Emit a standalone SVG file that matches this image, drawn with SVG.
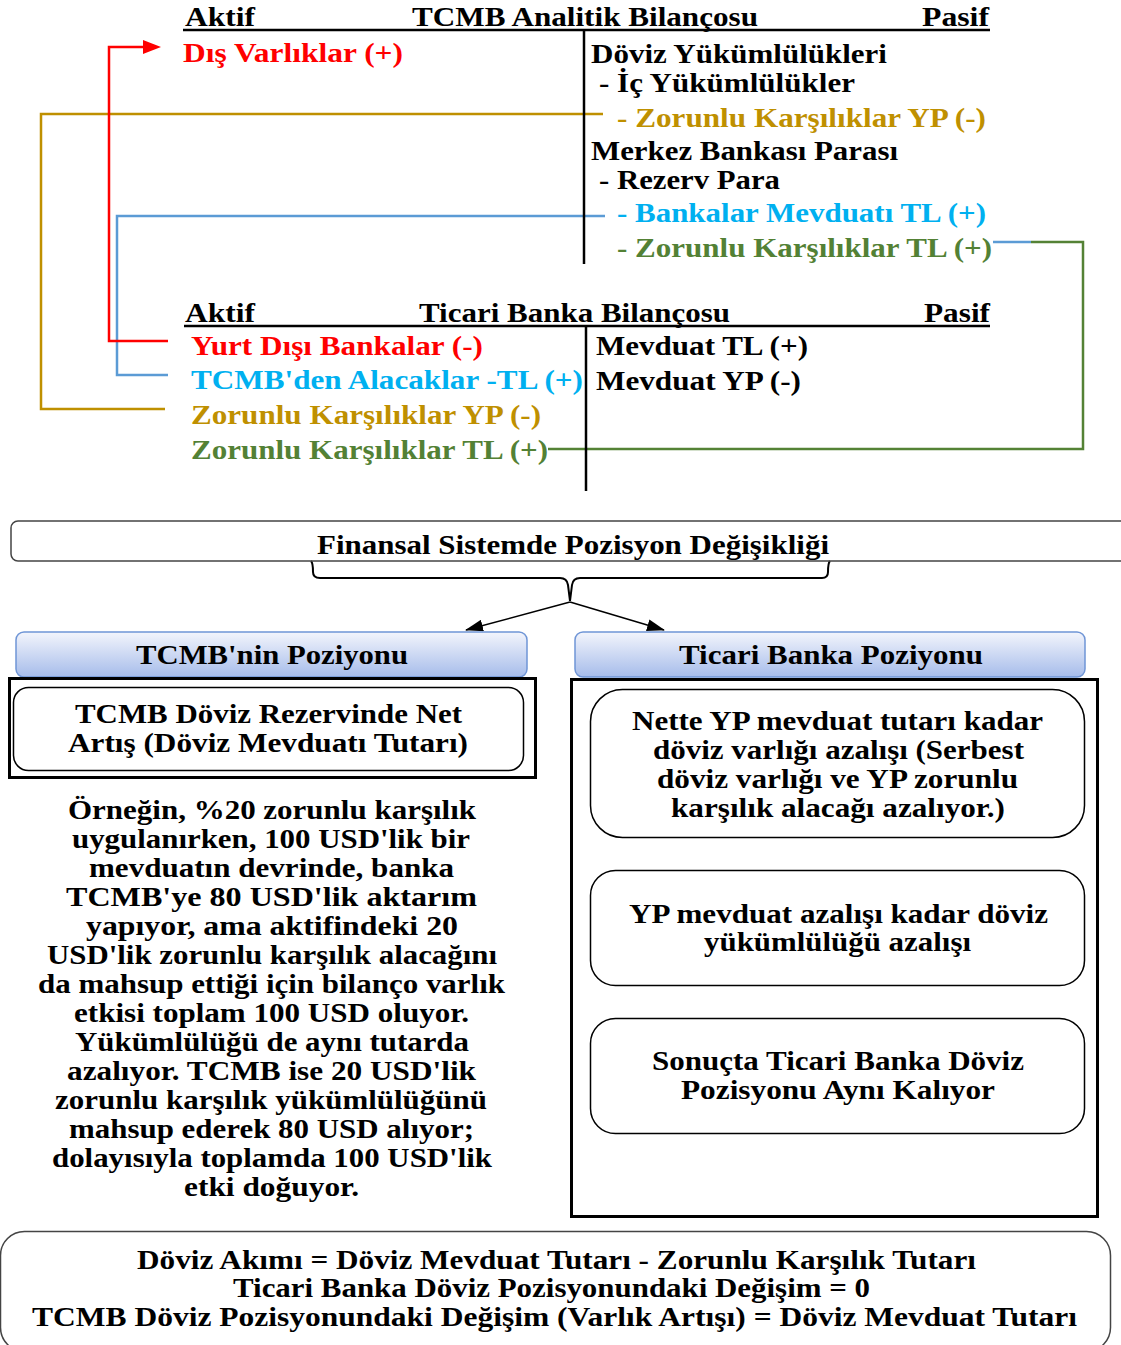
<svg xmlns="http://www.w3.org/2000/svg" width="1121" height="1345" viewBox="0 0 1121 1345">
<style>
text{font-family:"Liberation Serif","Times New Roman",serif;font-weight:bold;font-size:27.5px;fill:#000}
.r{fill:#FF0000}.g{fill:#BF9000}.b{fill:#00B0F0}.gr{fill:#538135}
.ln{fill:none;stroke-width:2.5}
.hdr{fill:url(#hg);stroke:#6F95D6;stroke-width:1.5}
.in{fill:#fff;stroke:#000;stroke-width:1.5}
</style>
<defs>
<linearGradient id="hg" x1="0" y1="0" x2="0" y2="1">
<stop offset="0" stop-color="#F3F5FC"/>
<stop offset="1" stop-color="#A6BCEA"/>
</linearGradient>
<marker id="ah" markerWidth="18" markerHeight="12" refX="17" refY="6" orient="auto" markerUnits="userSpaceOnUse" viewBox="0 0 18 12">
<path d="M0,0 L18,6 L0,12 z" fill="#000"/>
</marker>
</defs>
<rect width="1121" height="1345" fill="#fff"/>

<g id="connectors">
<path class="ln" stroke="#BF9000" d="M603,114 H41 V409 H165"/>
<path class="ln" stroke="#5B9BD5" d="M605,216 H117 V375 H168"/>
<path class="ln" stroke="#FF0000" stroke-width="3" d="M168,341 H109 V47 H145"/>
<path d="M143,40 L161,47 L143,54 z" fill="#FF0000"/>
<path class="ln" stroke="#5B9BD5" d="M993,242 H1031"/>
<path class="ln" stroke="#548235" d="M1031,242 H1083 V449 H548"/>
<path fill="none" stroke="#000" stroke-width="2" d="M311,561 Q313,563 313,572 Q313,578 320,578 H560 Q567,578 568,585 L570,601 L572,585 Q573,578 580,578 H822 Q828,578 828,572 Q828,563 830,561"/>
<line x1="570" y1="602" x2="466" y2="630" stroke="#000" stroke-width="1.5" marker-end="url(#ah)"/>
<line x1="570" y1="602" x2="664" y2="630" stroke="#000" stroke-width="1.5" marker-end="url(#ah)"/>
</g>

<g id="tcmb-balance">
<text x="185" y="26" textLength="70" lengthAdjust="spacingAndGlyphs">Aktif</text>
<text x="412" y="26" textLength="346" lengthAdjust="spacingAndGlyphs">TCMB Analitik Bilançosu</text>
<text x="922" y="26" textLength="67" lengthAdjust="spacingAndGlyphs">Pasif</text>
<line x1="183" y1="30" x2="990" y2="30" stroke="#000" stroke-width="2.5"/>
<line x1="584" y1="30" x2="584" y2="264" stroke="#000" stroke-width="2.5"/>
<text class="r" x="183" y="62" textLength="220" lengthAdjust="spacingAndGlyphs">Dış Varlıklar (+)</text>
<text x="591" y="63" textLength="296" lengthAdjust="spacingAndGlyphs">Döviz Yükümlülükleri</text>
<text x="599" y="92" textLength="256" lengthAdjust="spacingAndGlyphs">- İç Yükümlülükler</text>
<text class="g" x="617" y="127" textLength="369" lengthAdjust="spacingAndGlyphs">- Zorunlu Karşılıklar YP (-)</text>
<text x="591" y="160" textLength="307" lengthAdjust="spacingAndGlyphs">Merkez Bankası Parası</text>
<text x="599" y="189" textLength="181" lengthAdjust="spacingAndGlyphs">- Rezerv Para</text>
<text class="b" x="617" y="222" textLength="369" lengthAdjust="spacingAndGlyphs">- Bankalar Mevduatı TL (+)</text>
<text class="gr" x="617" y="257" textLength="375" lengthAdjust="spacingAndGlyphs">- Zorunlu Karşılıklar TL (+)</text>
</g>

<g id="bank-balance">
<text x="185" y="322" textLength="70" lengthAdjust="spacingAndGlyphs">Aktif</text>
<text x="419" y="322" textLength="311" lengthAdjust="spacingAndGlyphs">Ticari Banka Bilançosu</text>
<text x="924" y="322" textLength="66" lengthAdjust="spacingAndGlyphs">Pasif</text>
<line x1="184" y1="326" x2="990" y2="326" stroke="#000" stroke-width="2.5"/>
<line x1="586" y1="326" x2="586" y2="491" stroke="#000" stroke-width="2.5"/>
<text class="r" x="191" y="355" textLength="292" lengthAdjust="spacingAndGlyphs">Yurt Dışı Bankalar (-)</text>
<text class="b" x="191" y="389" textLength="392" lengthAdjust="spacingAndGlyphs">TCMB'den Alacaklar -TL (+)</text>
<text class="g" x="191" y="424" textLength="350" lengthAdjust="spacingAndGlyphs">Zorunlu Karşılıklar YP (-)</text>
<text class="gr" x="191" y="459" textLength="357" lengthAdjust="spacingAndGlyphs">Zorunlu Karşılıklar TL (+)</text>
<text x="596" y="355" textLength="212" lengthAdjust="spacingAndGlyphs">Mevduat TL (+)</text>
<text x="596" y="390" textLength="205" lengthAdjust="spacingAndGlyphs">Mevduat YP (-)</text>
</g>

<g id="finansal">
<rect x="11" y="521" width="1130" height="40" rx="7" fill="none" stroke="#444" stroke-width="1.5"/>
<text x="317" y="554" textLength="512" lengthAdjust="spacingAndGlyphs">Finansal Sistemde Pozisyon Değişikliği</text>
</g>

<g id="tcmb-pozisyon">
<rect class="hdr" x="16" y="632" width="511" height="45" rx="8"/>
<text x="136" y="664" textLength="272" lengthAdjust="spacingAndGlyphs">TCMB'nin Poziyonu</text>
</g>
<g id="tcmb-box">
<rect x="9.5" y="678.5" width="526" height="99" fill="none" stroke="#000" stroke-width="3"/>
<rect class="in" x="13.5" y="687.5" width="510" height="83" rx="15"/>
<text x="75" y="723" textLength="387" lengthAdjust="spacingAndGlyphs">TCMB Döviz Rezervinde Net</text>
<text x="68" y="752" textLength="400" lengthAdjust="spacingAndGlyphs">Artış (Döviz Mevduatı Tutarı)</text>
</g>
<g id="ornek" xml:space="preserve">
<text x="68" y="819" textLength="408" lengthAdjust="spacingAndGlyphs">Örneğin, %20 zorunlu karşılık</text>
<text x="72" y="848" textLength="398" lengthAdjust="spacingAndGlyphs">uygulanırken, 100 USD'lik bir</text>
<text x="89" y="877" textLength="365" lengthAdjust="spacingAndGlyphs">mevduatın devrinde, banka</text>
<text x="66" y="906" textLength="411" lengthAdjust="spacingAndGlyphs">TCMB'ye  80 USD'lik  aktarım</text>
<text x="86" y="935" textLength="372" lengthAdjust="spacingAndGlyphs">yapıyor, ama aktifindeki  20</text>
<text x="47" y="964" textLength="450" lengthAdjust="spacingAndGlyphs">USD'lik zorunlu karşılık alacağını</text>
<text x="38" y="993" textLength="467" lengthAdjust="spacingAndGlyphs">da mahsup ettiği için bilanço varlık</text>
<text x="74" y="1022" textLength="395" lengthAdjust="spacingAndGlyphs">etkisi toplam 100 USD oluyor.</text>
<text x="75" y="1051" textLength="394" lengthAdjust="spacingAndGlyphs">Yükümlülüğü de aynı tutarda</text>
<text x="67" y="1080" textLength="409" lengthAdjust="spacingAndGlyphs">azalıyor. TCMB ise 20 USD'lik</text>
<text x="55" y="1109" textLength="432" lengthAdjust="spacingAndGlyphs">zorunlu karşılık yükümlülüğünü</text>
<text x="69" y="1138" textLength="405" lengthAdjust="spacingAndGlyphs">mahsup ederek 80 USD alıyor;</text>
<text x="52" y="1167" textLength="440" lengthAdjust="spacingAndGlyphs">dolayısıyla toplamda 100 USD'lik</text>
<text x="184" y="1196" textLength="175" lengthAdjust="spacingAndGlyphs">etki doğuyor.</text>
</g>

<g id="banka-pozisyon">
<rect class="hdr" x="575" y="632" width="510" height="45" rx="8"/>
<text x="679" y="664" textLength="304" lengthAdjust="spacingAndGlyphs">Ticari Banka Poziyonu</text>
</g>
<g id="banka-box">
<rect x="571.5" y="679.5" width="526" height="537" fill="none" stroke="#000" stroke-width="3"/>
</g>
<g id="banka-1">
<rect class="in" x="590.5" y="689.5" width="494" height="148" rx="32"/>
<text x="632" y="730" textLength="411" lengthAdjust="spacingAndGlyphs">Nette YP mevduat tutarı kadar</text>
<text x="653" y="759" textLength="371" lengthAdjust="spacingAndGlyphs">döviz varlığı azalışı (Serbest</text>
<text x="657" y="788" textLength="361" lengthAdjust="spacingAndGlyphs">döviz varlığı ve YP zorunlu</text>
<text x="671" y="817" textLength="334" lengthAdjust="spacingAndGlyphs">karşılık alacağı azalıyor.)</text>
</g>
<g id="banka-2">
<rect class="in" x="590.5" y="870.5" width="494" height="115" rx="25"/>
<text x="629" y="923" textLength="419" lengthAdjust="spacingAndGlyphs">YP mevduat azalışı kadar döviz</text>
<text x="704" y="951" textLength="267" lengthAdjust="spacingAndGlyphs">yükümlülüğü azalışı</text>
</g>
<g id="banka-3">
<rect class="in" x="590.5" y="1018.5" width="494" height="115" rx="25"/>
<text x="652" y="1070" textLength="372" lengthAdjust="spacingAndGlyphs">Sonuçta Ticari Banka Döviz</text>
<text x="681" y="1099" textLength="314" lengthAdjust="spacingAndGlyphs">Pozisyonu Aynı Kalıyor</text>
</g>

<g id="sonuc" xml:space="preserve">
<rect x="0.5" y="1231.5" width="1110" height="120" rx="24" fill="none" stroke="#444" stroke-width="1.5"/>
<text x="137" y="1269" textLength="839" lengthAdjust="spacingAndGlyphs">Döviz Akımı = Döviz Mevduat Tutarı - Zorunlu Karşılık Tutarı</text>
<text x="233" y="1297" textLength="637" lengthAdjust="spacingAndGlyphs">Ticari Banka Döviz Pozisyonundaki Değişim = 0</text>
<text x="32" y="1326" textLength="1045" lengthAdjust="spacingAndGlyphs">TCMB Döviz Pozisyonundaki Değişim (Varlık Artışı) =  Döviz Mevduat Tutarı</text>
</g>
</svg>
